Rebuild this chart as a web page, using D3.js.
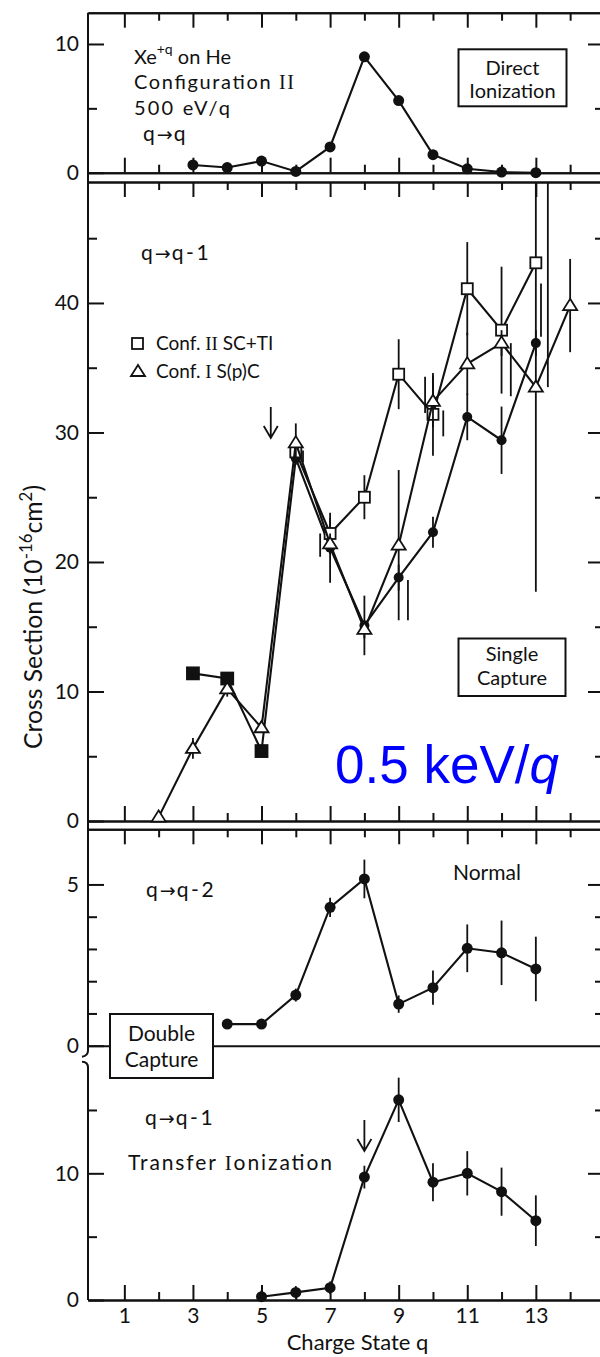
<!DOCTYPE html>
<html>
<head>
<meta charset="utf-8">
<title>Xe+q on He cross sections</title>
<script src="https://cdnjs.cloudflare.com/ajax/libs/d3/7.8.5/d3.min.js"></script>
<style>
  body { margin: 0; background: #fff; }
  svg text { font-family: Lato, "DejaVu Sans", sans-serif; fill: #111; }
</style>
</head>
<body>
<svg width="600" height="1357"></svg>
<script>
// ---- data ----
// direct ionization q -> q
const qDI = [3, 4, 5, 6, 7, 8, 9, 10, 11, 12, 13];
const vDI = [0.6, 0.4, 0.9, 0.1, 2.0, 9.0, 5.6, 1.4, 0.3, 0.05, 0.0];

// single capture q -> q-1, filled symbols (squares for q<=5, circles after)
const qSC = [3, 4, 5, 6, 7, 8, 9, 10, 11, 12, 13];
const vSC = [11.4, 11.0, 5.4, 28.0, 21.1, 15.1, 18.8, 22.3, 31.2, 29.4, 36.9];
const eSC = [0, 0, 0, 0.5, 2.7, 2.3, 1.0, 1.2, 1.8, 2.6, 1.0];

// Conf. II SC+TI (open squares)
const qSQ = [6, 7, 8, 9, 10, 11, 12, 13];
const vSQ = [28.5, 22.2, 25.0, 34.5, 31.4, 41.1, 37.9, 43.1];
const eSQ = [0.8, 1.2, 1.7, 2.7, 3.2, 3.6, 4.9, 25.4];

// Conf. I S(p)C (open triangles)
const qTR = [2, 3, 4, 5, 6, 7, 8, 9, 10, 11, 12, 13, 14];
const vTR = [0.3, 5.6, 10.2, 7.2, 29.2, 21.4, 14.8, 21.3, 32.4, 35.3, 36.9, 33.5, 39.8];
const eTR = [0, 0.8, 0.6, 0, 1.5, 0.8, 0.7, 5.8, 2.0, 2.4, 1.0, 0, 3.6];

// error bars drawn beside the points in the original: [q, low, high]
const sideBars = [[6.21, 27.7, 28.6], [6.71, 20.4, 22.2], [9.27, 15.5, 18.6],
                  [9.77, 31.5, 34.3], [10.3, 29.7, 31.7], [12.27, 32.8, 36.9],
                  [13.15, 37.4, 41.5], [13.35, 33.5, 60]];

// double capture q -> q-2
const qDC = [4, 5, 6, 7, 8, 9, 10, 11, 12, 13];
const vDC = [0.67, 0.67, 1.57, 4.29, 5.17, 1.29, 1.8, 3.02, 2.88, 2.38];
const eDC = [0, 0, 0.2, 0.3, 0.6, 0.27, 0.53, 0.74, 1.0, 1.0];

// transfer ionization q -> q-1
const qTI = [5, 6, 7, 8, 9, 10, 11, 12, 13];
const vTI = [0.26, 0.6, 0.97, 9.7, 15.8, 9.3, 10.0, 8.55, 6.26];
const eTI = [0.5, 0.5, 0.5, 0.9, 1.75, 1.5, 1.75, 1.9, 2.0];

const xMajor = [1, 3, 5, 7, 9, 11, 13];
const xMinor = [2, 4, 6, 8, 10, 12, 14];
const arrowSC = 5.27, arrowTI = 8;

// ---- layout ----
const ink = '#111';
const svg = d3.select('svg');
const X = d3.scaleLinear().domain([-0.06, 14.9]).range([88, 601]);
const x0 = X.range()[0], x1 = X.range()[1];

const panels = {
  di: { top: 12.7, bottom: 172.7, max: 12.43, major: [0, 10], minor: [5] },
  sc: { top: 182, bottom: 821, max: 49.34, major: [0, 10, 20, 30, 40], minor: [5, 15, 25, 35, 45] },
  dc: { top: 829.3, bottom: 1045.7, max: 6.71, major: [0, 5], minor: [1, 2, 3, 4] },
  ti: { top: 1065, bottom: 1300, max: 18.55, major: [0, 10], minor: [5, 15] }
};
Object.values(panels).forEach(p => {
  p.y = d3.scaleLinear().domain([0, p.max]).range([p.bottom, p.top]);
});

function tidy(g) {
  g.attr('font-family', null).attr('font-size', null);
  g.selectAll('line').attr('stroke', ink).attr('stroke-width', 2);
  g.selectAll('path.domain').attr('stroke', ink).attr('stroke-width', 2);
  g.selectAll('text').attr('fill', ink).style('font-size', '21px');
}

function xEdge(yPos, down) {
  const make = down ? d3.axisTop : d3.axisBottom;
  [[xMajor, 15], [xMinor, 8]].forEach(([vals, len]) => {
    svg.append('g').attr('transform', `translate(0,${yPos})`)
      .call(make(X).tickValues(vals).tickSize(-len).tickSizeOuter(0).tickFormat(''))
      .call(tidy);
  });
}

function yTicks(p) {
  svg.append('g').attr('transform', `translate(${x0},0)`)
    .call(d3.axisLeft(p.y).tickValues(p.major).tickSize(-16).tickPadding(9).tickFormat(d3.format('d')))
    .call(g => g.select('.domain').remove()).call(tidy);
  svg.append('g').attr('transform', `translate(${x0},0)`)
    .call(d3.axisLeft(p.y).tickValues(p.minor).tickSize(-9).tickFormat(''))
    .call(g => g.select('.domain').remove()).call(tidy);
  svg.append('g').attr('transform', `translate(${x1},0)`)
    .call(d3.axisRight(p.y).tickValues(p.major.filter(d => d > 0)).tickSize(-13).tickFormat(''))
    .call(g => g.select('.domain').remove()).call(tidy);
  svg.append('g').attr('transform', `translate(${x1},0)`)
    .call(d3.axisRight(p.y).tickValues(p.minor).tickSize(-6).tickFormat(''))
    .call(g => g.select('.domain').remove()).call(tidy);
}

// frames
xEdge(panels.di.top, true);
xEdge(panels.di.bottom, false);
xEdge(panels.sc.top, true);
xEdge(panels.sc.bottom, false);
xEdge(panels.dc.top, true);
xEdge(panels.ti.bottom, false);
Object.values(panels).forEach(yTicks);
// zero line of the double capture panel (no ticks)
svg.append('g').attr('transform', `translate(0,${panels.dc.bottom})`)
  .call(d3.axisBottom(X).tickValues([]).tickSizeOuter(0)).call(tidy);

// left spine with axis break
const brk = panels.dc.bottom;
svg.append('path')
  .attr('d', `M${x0},${panels.di.top}V${brk + 5}Q${x0},${brk + 10} ${x0 - 6},${brk + 11}`)
  .attr('fill', 'none').attr('stroke', ink).attr('stroke-width', 2);
svg.append('path')
  .attr('d', `M${x0 - 6},${brk + 16}Q${x0},${brk + 16} ${x0},${brk + 22}V${panels.ti.bottom}`)
  .attr('fill', 'none').attr('stroke', ink).attr('stroke-width', 2);

// x tick labels and title
svg.append('g').attr('transform', `translate(0,${panels.ti.bottom})`)
  .call(d3.axisBottom(X).tickValues(xMajor).tickSize(0).tickPadding(8))
  .call(g => g.select('.domain').remove()).call(tidy);
svg.append('text').attr('x', X(7.8)).attr('y', 1350).attr('text-anchor', 'middle')
  .style('font-size', '22px').text('Charge State q');

// y title
const yt = svg.append('text')
  .attr('transform', 'translate(42,617) rotate(-90)')
  .attr('text-anchor', 'middle').style('font-size', '25px')
  .attr('textLength', 264).attr('lengthAdjust', 'spacingAndGlyphs');
yt.append('tspan').text('Cross Section (10');
yt.append('tspan').attr('dy', -10).style('font-size', '17px').text('-16');
yt.append('tspan').attr('dy', 10).text('cm');
yt.append('tspan').attr('dy', -10).style('font-size', '17px').text('2');
yt.append('tspan').attr('dy', 10).text(')');

// ---- marks ----
function series(p, qs, vs, opts) {
  const pts = qs.map((q, i) => ({ q, v: vs[i], e: opts.err ? opts.err[i] : 0, i }));
  const clipV = v => Math.min(v, p.max);
  const g = svg.append('g');
  g.append('path').datum(pts)
    .attr('d', d3.line().x(d => X(d.q)).y(d => p.y(d.v)))
    .attr('fill', 'none').attr('stroke', ink).attr('stroke-width', 2.1);
  g.selectAll('line.err').data(pts.filter(d => d.e > 0)).join('line')
    .attr('x1', d => X(d.q)).attr('x2', d => X(d.q))
    .attr('y1', d => p.y(Math.max(0, d.v - d.e))).attr('y2', d => p.y(clipV(d.v + d.e)))
    .attr('stroke', ink).attr('stroke-width', 1.8);
  return { g, pts };
}

function dots(s, p, r, filterFn) {
  s.g.selectAll('circle').data(s.pts.filter(filterFn || (() => true))).join('circle')
    .attr('cx', d => X(d.q)).attr('cy', d => p.y(d.v)).attr('r', r).attr('fill', ink);
}
function squares(s, p, size, filled, filterFn) {
  s.g.selectAll('rect.m').data(s.pts.filter(filterFn || (() => true))).join('rect')
    .attr('x', d => X(d.q) - size / 2).attr('y', d => p.y(d.v) - size / 2)
    .attr('width', size).attr('height', size)
    .attr('fill', filled ? ink : '#fff').attr('stroke', ink).attr('stroke-width', 1.8);
}
function triangles(s, p, w) {
  const h = w * 0.8;
  s.g.selectAll('path.m').data(s.pts).join('path')
    .attr('d', d => {
      const cx = X(d.q), cy = p.y(d.v);
      return `M${cx},${cy - h * 0.6}L${cx + w / 2},${cy + h * 0.4}L${cx - w / 2},${cy + h * 0.4}Z`;
    })
    .attr('fill', '#fff').attr('stroke', ink).attr('stroke-width', 1.8);
}

// direct ionization
const sDI = series(panels.di, qDI, vDI, {});
dots(sDI, panels.di, 5.5);

// single capture
const P = panels.sc;
svg.append('g').selectAll('line').data(sideBars).join('line')
  .attr('x1', d => X(d[0])).attr('x2', d => X(d[0]))
  .attr('y1', d => P.y(d[1])).attr('y2', d => P.y(Math.min(d[2], P.max)))
  .attr('stroke', ink).attr('stroke-width', 1.8);
const sSC = series(P, qSC, vSC, { err: eSC });
const sSQ = series(P, qSQ, vSQ, { err: eSQ });
const sTR = series(P, qTR, vTR, { err: eTR });
squares(sSC, P, 12, true, d => d.q <= 5);
dots(sSC, P, 5, d => d.q > 5);
triangles(sTR, P, 14);
squares(sSQ, P, 11, false);

// legend
const legY = [350, 378];
svg.append('rect').attr('x', 132).attr('y', legY[0] - 12).attr('width', 11).attr('height', 11)
  .attr('fill', '#fff').attr('stroke', ink).attr('stroke-width', 1.8);
svg.append('path').attr('d', `M138,${legY[1] - 13}L145,${legY[1] - 2}L131,${legY[1] - 2}Z`)
  .attr('fill', '#fff').attr('stroke', ink).attr('stroke-width', 1.8);
function roman(sel, parts) {
  parts.forEach(([t, serif]) => {
    const ts = sel.append('tspan').text(t);
    if (serif) ts.style('font-family', '"Liberation Serif", serif');
  });
}
roman(svg.append('text').attr('x', 156).attr('y', legY[0]).style('font-size', '19px'),
  [['Conf. ', false], ['II', true], [' SC+TI', false]]);
roman(svg.append('text').attr('x', 156).attr('y', legY[1]).style('font-size', '19px'),
  [['Conf. ', false], ['I', true], [' S(p)C', false]]);

// double capture
const sDC = series(panels.dc, qDC, vDC, { err: eDC });
dots(sDC, panels.dc, 5.5);

// transfer ionization
const sTI = series(panels.ti, qTI, vTI, { err: eTI });
dots(sTI, panels.ti, 5.5);

// arrows
function downArrow(xq, yTop, yBot) {
  const ax = X(xq);
  svg.append('path')
    .attr('d', `M${ax},${yTop}V${yBot}M${ax - 7},${yBot - 12}L${ax},${yBot}L${ax + 7},${yBot - 12}`)
    .attr('fill', 'none').attr('stroke', ink).attr('stroke-width', 1.8);
}
downArrow(arrowSC, 407, 438);
downArrow(arrowTI, 1120, 1151);

// ---- labels ----
function label(x, y, size, txt) {
  return svg.append('text').attr('x', x).attr('y', y).style('font-size', size + 'px').text(txt);
}
function arrowLabel(x, y, a, b) {
  const t = svg.append('text').attr('x', x).attr('y', y).style('font-size', '21px');
  t.append('tspan').text(a);
  t.append('tspan').attr('dx', 2).style('font-family', '"DejaVu Sans", sans-serif')
    .style('font-size', '19px').text('\u2192');
  t.append('tspan').attr('dx', 1).text(b.replace('-', '\u2009-\u2009'));
}
function boxed(x, y, w, h, lines, size, base) {
  svg.append('rect').attr('x', x).attr('y', y).attr('width', w).attr('height', h)
    .attr('fill', '#fff').attr('stroke', ink).attr('stroke-width', 2);
  lines.forEach((l, i) => {
    svg.append('text').attr('x', x + w / 2).attr('y', base[i]).attr('text-anchor', 'middle')
      .style('font-size', size + 'px').text(l);
  });
}

const xe = svg.append('text').attr('x', 134).attr('y', 64).style('font-size', '20px');
xe.append('tspan').text('Xe');
xe.append('tspan').attr('dy', -10).style('font-size', '14px').text('+q');
xe.append('tspan').attr('dy', 10).text(' on He');
roman(svg.append('text').attr('x', 134).attr('y', 89).style('font-size', '20px')
    .attr('textLength', 160).attr('lengthAdjust', 'spacing'),
  [['Configuration ', false], ['II', true]]);
label(134, 115, 20, '500 eV/q').attr('textLength', 96).attr('lengthAdjust', 'spacing');
arrowLabel(143, 141, 'q', 'q');
boxed(458.5, 49.3, 108, 57, ['Direct', 'Ionization'], 20, [75, 98]);

arrowLabel(141, 260, 'q', 'q-1');
boxed(458.5, 638.5, 107, 57.5, ['Single', 'Capture'], 20, [661, 685]);

const kev = svg.append('text').attr('x', 335).attr('y', 783)
  .style('font-family', '"Liberation Sans", Arial, sans-serif').style('font-size', '53px')
  .style('fill', '#0000ff');
kev.append('tspan').style('fill', '#0000ff').text('0.5 keV/');
kev.append('tspan').style('fill', '#0000ff').style('font-style', 'italic').text('q');

arrowLabel(146, 897, 'q', 'q-2');
label(453, 880, 21, 'Normal');
boxed(110, 1014, 103, 64, ['Double', 'Capture'], 21, [1041, 1067]);

arrowLabel(145, 1125, 'q', 'q-1');
roman(svg.append('text').attr('x', 128).attr('y', 1170).style('font-size', '21px')
    .attr('textLength', 204).attr('lengthAdjust', 'spacing'),
  [['Transfer ', false], ['I', true], ['onization', false]]);
</script>
</body>
</html>
